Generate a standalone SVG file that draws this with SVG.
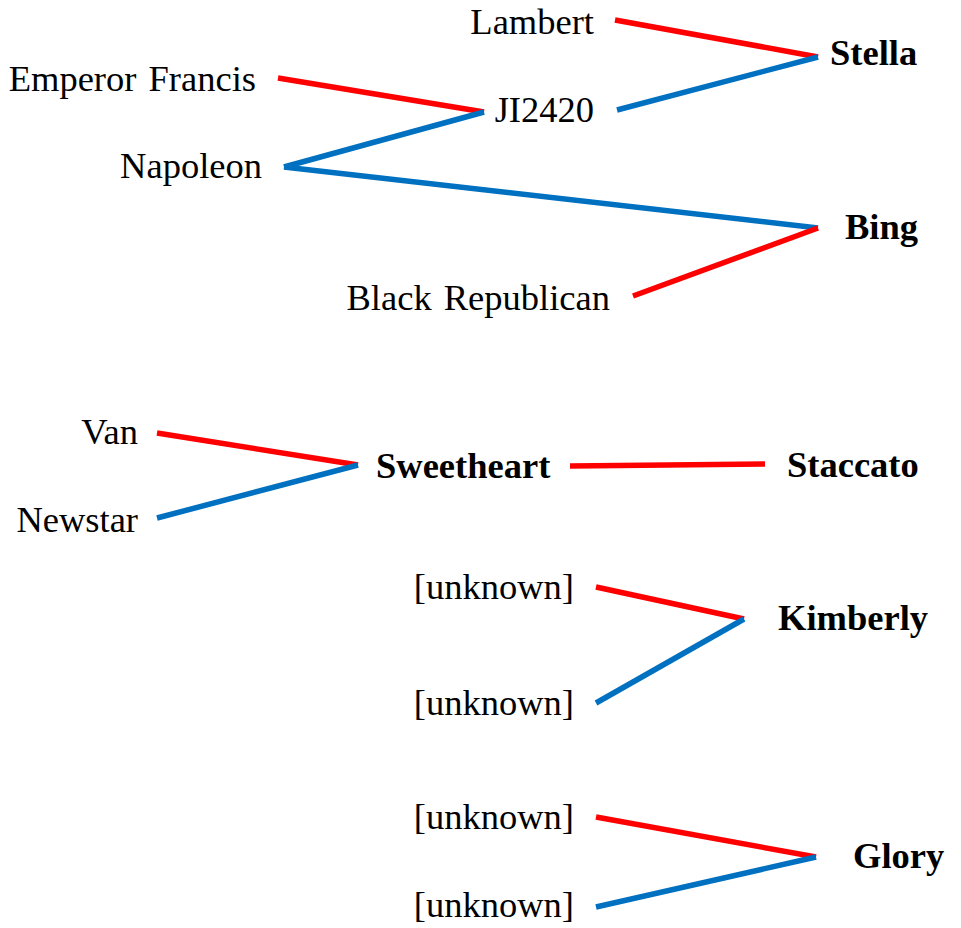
<svg xmlns="http://www.w3.org/2000/svg" width="961" height="928" viewBox="0 0 961 928">
  <style>
    text { font-family: "Liberation Serif", "Times New Roman", serif; font-size: 36.5px; fill: #000; word-spacing: 3px; }
    .parent { text-anchor: end; }
    .cultivar { font-weight: bold; text-anchor: start; }
    .seed { stroke: #FF0000; stroke-width: 5.5; fill: none; }
    .pollen { stroke: #0070C0; stroke-width: 5.5; fill: none; }
  </style>
  <rect width="961" height="928" fill="#fff"/>

  <g id="connectors">
    <line class="seed" x1="615" y1="20" x2="818" y2="57"/>
    <line class="pollen" x1="617" y1="110" x2="818" y2="57"/>
    <line class="seed" x1="278" y1="78" x2="484" y2="112"/>
    <line class="pollen" x1="284" y1="167" x2="484" y2="112"/>
    <line class="pollen" x1="284" y1="167" x2="818" y2="228"/>
    <line class="seed" x1="633" y1="296" x2="818" y2="228"/>
    <line class="seed" x1="157" y1="433" x2="358" y2="465"/>
    <line class="pollen" x1="157" y1="518" x2="358" y2="465"/>
    <line class="seed" x1="570" y1="466" x2="765" y2="464"/>
    <line class="seed" x1="596" y1="587" x2="744" y2="619"/>
    <line class="pollen" x1="596" y1="703" x2="744" y2="619"/>
    <line class="seed" x1="596" y1="817" x2="816" y2="857"/>
    <line class="pollen" x1="596" y1="907" x2="816" y2="857"/>
  </g>

  <g id="lambert"><text class="parent" x="594" y="34">Lambert</text></g>
  <g id="emperor-francis"><text class="parent" x="256" y="91">Emperor Francis</text></g>
  <g id="ji2420"><text class="parent" x="594" y="122">JI2420</text></g>
  <g id="napoleon"><text class="parent" x="262" y="178">Napoleon</text></g>
  <g id="black-republican"><text class="parent" x="610" y="310">Black Republican</text></g>
  <g id="stella"><text class="cultivar" x="830" y="65">Stella</text></g>
  <g id="bing"><text class="cultivar" x="845" y="239">Bing</text></g>

  <g id="van"><text class="parent" x="138" y="444">Van</text></g>
  <g id="newstar"><text class="parent" x="138" y="532">Newstar</text></g>
  <g id="sweetheart"><text class="cultivar" x="376" y="478">Sweetheart</text></g>
  <g id="staccato"><text class="cultivar" x="787" y="477">Staccato</text></g>

  <g id="kimberly-seed"><text class="parent" x="574" y="599">[unknown]</text></g>
  <g id="kimberly-pollen"><text class="parent" x="574" y="715">[unknown]</text></g>
  <g id="kimberly"><text class="cultivar" x="778" y="630">Kimberly</text></g>

  <g id="glory-seed"><text class="parent" x="574" y="829">[unknown]</text></g>
  <g id="glory-pollen"><text class="parent" x="574" y="917">[unknown]</text></g>
  <g id="glory"><text class="cultivar" x="853" y="868">Glory</text></g>
</svg>
